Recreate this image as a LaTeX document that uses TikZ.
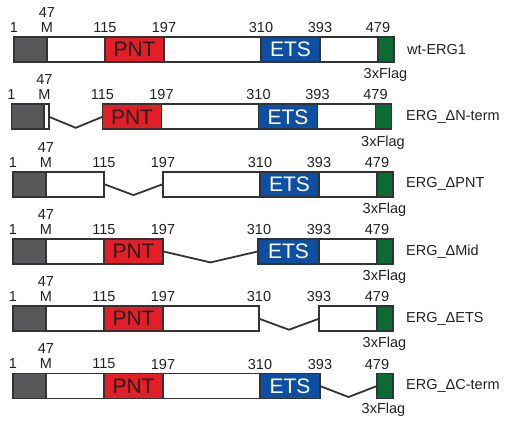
\documentclass[tikz,border=0pt]{standalone}
\usepackage{fontspec}
\setmainfont{Liberation Sans}
\usetikzlibrary{calc}
\definecolor{edge}{HTML}{333333}
\definecolor{ntgray}{HTML}{58585A}
\definecolor{pntred}{HTML}{E31E26}
\definecolor{etsblue}{HTML}{0D4FA3}
\definecolor{flaggreen}{HTML}{0A6B35}
\definecolor{txt}{HTML}{231F20}
\tikzset{
  seg/.style={draw=edge, fill=white, line width=1.8pt, inner sep=0pt, outer sep=0pt,
    minimum height=25pt, anchor=north west, text=txt,
    font=\fontsize{21}{23}\selectfont},
  grayseg/.style={fill=ntgray},
  pnt/.style={fill=pntred},
  ets/.style={fill=etsblue, text=white},
  flag/.style={fill=flaggreen},
  numtxt/.style={inner sep=0pt, text=txt, font=\fontsize{14.5}{16}\selectfont},
  rowname/.style={inner sep=0pt, anchor=west, text=txt, font=\fontsize{14.5}{16}\selectfont},
  link/.style={draw=edge, line width=1.8pt},
}
% one domain segment: [style]{name}{x start}{x end}{top}{text}
\newcommand\seg[6][]{\node[seg,#1,minimum width={(#4-#3)*1pt}] (#2) at (#3,#5) {#6};}
% residue number above a construct: {name}{x}{text}
\newcommand\resnum[3]{\node[numtxt] (#1) at (#2,-9.5) {#3};}
% V-shaped linker across a deleted region
\newcommand\linker[2]{\draw[link] (#1.east) -- ($(#1.east)!0.5!(#2.west)+(0,11)$) -- (#2.west);}
\begin{document}
\begin{tikzpicture}[x=1pt,y=-1pt]
\useasboundingbox (0,0) rectangle (505,421);

% wt-ERG1
\begin{scope}[shift={(1,37)}]
  \seg[grayseg]{wA}{13}{46}{0}{}
  \seg{wB}{46}{104}{0}{}
  \seg[pnt]{wC}{104}{163}{0}{PNT}
  \seg{wD}{163}{260}{0}{}
  \seg[ets]{wE}{260}{319}{0}{ETS}
  \seg{wF}{319}{377}{0}{}
  \seg[flag]{wG}{377}{393}{0}{}
  \resnum{wn1}{13}{1}
  \resnum{wnM}{46}{M}
  \node[numtxt] (wn47) at (46,-24.5) {47};
  \resnum{wn115}{104}{115}
  \resnum{wn197}{163}{197}
  \resnum{wn310}{260}{310}
  \resnum{wn393}{319}{393}
  \resnum{wn479}{377}{479}
  \node[numtxt] (wflag) at (384.5,38) {3xFlag};
  \node[rowname] (wname) at (406,12.5) {wt-ERG1};
\end{scope}

% ERG_dN-term
\begin{scope}[shift={(-1.5,104.3)}]
  \seg[grayseg]{nA}{13}{45.5}{0}{}
  \seg{nS}{45.5}{50.5}{0}{}
  \seg[pnt]{nC}{104}{163}{0}{PNT}
  \seg{nD}{163}{260}{0}{}
  \seg[ets]{nE}{260}{319}{0}{ETS}
  \seg{nF}{319}{377}{0}{}
  \seg[flag]{nG}{377}{393}{0}{}
  \linker{nS}{nC}
  \resnum{nn1}{13}{1}
  \resnum{nnM}{46}{M}
  \node[numtxt] (nn47) at (46,-24.5) {47};
  \resnum{nn115}{104}{115}
  \resnum{nn197}{163}{197}
  \resnum{nn310}{260}{310}
  \resnum{nn393}{319}{393}
  \resnum{nn479}{377}{479}
  \node[numtxt] (nflag) at (384.5,38) {3xFlag};
  \node[rowname] (nname) at (407.5,12.5) {ERG\_ΔN-term};
\end{scope}

% ERG_dPNT
\begin{scope}[shift={(0,171.6)}]
  \seg[grayseg]{pA}{13}{46}{0}{}
  \seg{pB}{46}{104}{0}{}
  \seg{pD}{163}{260}{0}{}
  \seg[ets]{pE}{260}{319}{0}{ETS}
  \seg{pF}{319}{377}{0}{}
  \seg[flag]{pG}{377}{393}{0}{}
  \linker{pB}{pD}
  \resnum{pn1}{13}{1}
  \resnum{pnM}{46}{M}
  \node[numtxt] (pn47) at (46,-24.5) {47};
  \resnum{pn115}{104}{115}
  \resnum{pn197}{163}{197}
  \resnum{pn310}{260}{310}
  \resnum{pn393}{319}{393}
  \resnum{pn479}{377}{479}
  \node[numtxt] (pflag) at (384.5,38) {3xFlag};
  \node[rowname] (pname) at (406,12.5) {ERG\_ΔPNT};
\end{scope}

% ERG_dMid
\begin{scope}[shift={(0,238.9)}]
  \seg[grayseg]{mA}{13}{46}{0}{}
  \seg{mB}{46}{104}{0}{}
  \seg[pnt]{mC}{104}{163}{0}{PNT}
  \seg[ets]{mE}{258}{319}{0}{ETS}
  \seg{mF}{319}{377}{0}{}
  \seg[flag]{mG}{377}{393}{0}{}
  \linker{mC}{mE}
  \resnum{mn1}{13}{1}
  \resnum{mnM}{46}{M}
  \node[numtxt] (mn47) at (46,-24.5) {47};
  \resnum{mn115}{104}{115}
  \resnum{mn197}{163}{197}
  \resnum{mn310}{259}{310}
  \resnum{mn393}{319}{393}
  \resnum{mn479}{377}{479}
  \node[numtxt] (mflag) at (384.5,38) {3xFlag};
  \node[rowname] (mname) at (406,12.5) {ERG\_ΔMid};
\end{scope}

% ERG_dETS
\begin{scope}[shift={(0,306.2)}]
  \seg[grayseg]{eA}{13}{46}{0}{}
  \seg{eB}{46}{104}{0}{}
  \seg[pnt]{eC}{104}{163}{0}{PNT}
  \seg{eD}{163}{259}{0}{}
  \seg{eF}{319}{377}{0}{}
  \seg[flag]{eG}{377}{393}{0}{}
  \linker{eD}{eF}
  \resnum{en1}{13}{1}
  \resnum{enM}{46}{M}
  \node[numtxt] (en47) at (46,-24.5) {47};
  \resnum{en115}{104}{115}
  \resnum{en197}{163}{197}
  \resnum{en310}{259}{310}
  \resnum{en393}{319}{393}
  \resnum{en479}{377}{479}
  \node[numtxt] (eflag) at (384.5,38) {3xFlag};
  \node[rowname] (ename) at (406,12.5) {ERG\_ΔETS};
\end{scope}

% ERG_dC-term
\begin{scope}[shift={(0,373.5)}]
  \seg[grayseg]{cA}{13}{46}{0}{}
  \seg{cB}{46}{104}{0}{}
  \seg[pnt]{cC}{104}{163}{0}{PNT}
  \seg{cD}{163}{260}{0}{}
  \seg[ets]{cE}{260}{320}{0}{ETS}
  \seg[flag]{cG}{377}{393}{0}{}
  \linker{cE}{cG}
  \resnum{cn1}{13}{1}
  \resnum{cnM}{46}{M}
  \node[numtxt] (cn47) at (46,-24.5) {47};
  \resnum{cn115}{104}{115}
  \resnum{cn197}{163}{197}
  \resnum{cn310}{260}{310}
  \resnum{cn393}{320}{393}
  \resnum{cn479}{377}{479}
  \node[numtxt] (cflag) at (383.5,36) {3xFlag};
  \node[rowname] (cname) at (406,12.5) {ERG\_ΔC-term};
\end{scope}

\end{tikzpicture}
\end{document}
